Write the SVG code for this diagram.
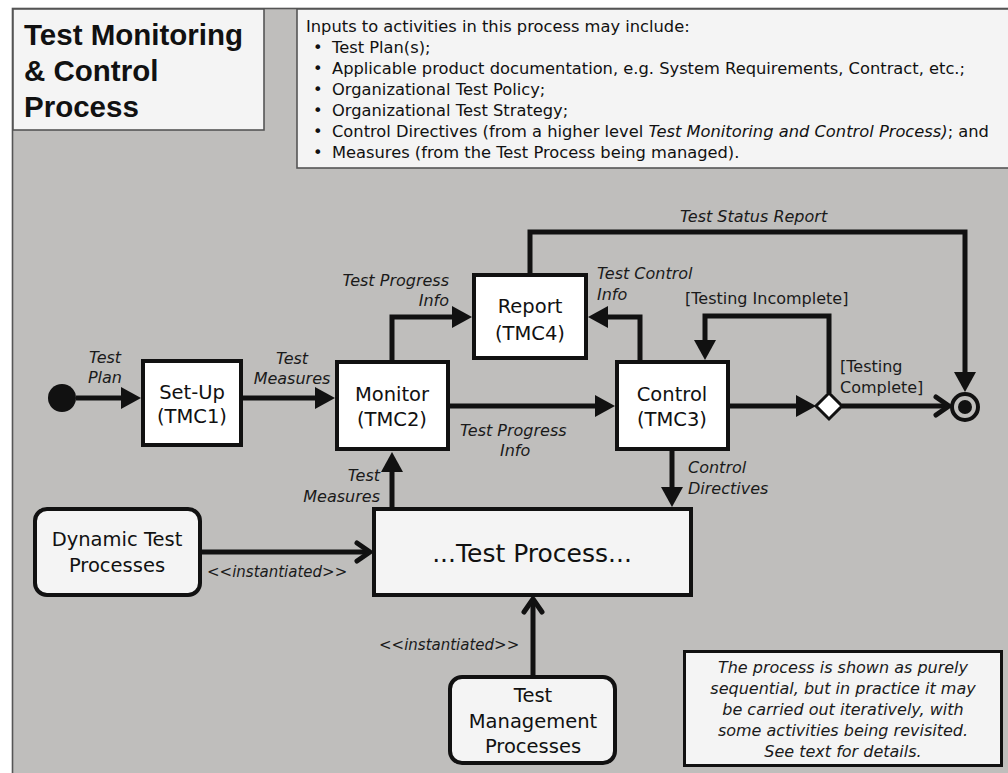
<svg xmlns="http://www.w3.org/2000/svg" width="1008" height="773" viewBox="0 0 1008 773">
  <style>
    .panel { fill: #f4f4f4; stroke: #555; stroke-width: 1.6; }
    .act { fill: #ffffff; stroke: #111; stroke-width: 4; }
    .proc { fill: #f4f4f4; stroke: #111; stroke-width: 4; }
    .note { fill: #f4f4f4; stroke: #111; stroke-width: 3; }
    .edge { fill: none; stroke: #111; stroke-width: 5; stroke-linejoin: miter; }
    .title { font-family: "Liberation Sans", Arial, sans-serif; font-weight: bold; font-size: 29.5px; fill: #111; }
    .inputs { font-family: "DejaVu Sans", Verdana, sans-serif; font-size: 16.3px; fill: #111; }
    .node { font-family: "DejaVu Sans", Verdana, sans-serif; font-size: 19.5px; fill: #111; text-anchor: middle; }
    .big { font-family: "DejaVu Sans", Verdana, sans-serif; font-size: 25px; fill: #111; text-anchor: middle; }
    .lbl { font-family: "DejaVu Sans", Verdana, sans-serif; font-style: italic; font-size: 16px; fill: #1a1a1a; }
    .grd { font-family: "DejaVu Sans", Verdana, sans-serif; font-size: 16px; fill: #1a1a1a; }
    .stereo { font-size: 15px; }
    .mid { text-anchor: middle; }
    .end { text-anchor: end; }
  </style>
  <defs>
    <marker id="head" markerUnits="userSpaceOnUse" markerWidth="22" markerHeight="22" refX="14" refY="11" orient="auto" overflow="visible">
      <path d="M0,0 L20,11 L0,22 z" fill="#111"/>
    </marker>
    <marker id="open" markerUnits="userSpaceOnUse" markerWidth="20" markerHeight="20" refX="14" refY="9" orient="auto" overflow="visible">
      <path d="M1,0 L14,9 L1,18" fill="none" stroke="#111" stroke-width="5" stroke-linecap="round" stroke-linejoin="round"/>
    </marker>
  </defs>

  <!-- frame -->
  <rect x="12.5" y="8.5" width="1000" height="770" fill="#bfbebc" stroke="#555" stroke-width="1.6"/>

  <g id="title">
    <rect class="panel" x="13" y="9" width="251" height="121"/>
    <text class="title" x="24" y="45">Test Monitoring</text>
    <text class="title" x="24" y="81">&amp; Control</text>
    <text class="title" x="24" y="117">Process</text>
  </g>

  <g id="inputs">
    <rect class="panel" x="297" y="9" width="720" height="159" stroke-width="2"/>
    <text class="inputs" x="306" y="32">Inputs to activities in this process may include:</text>
    <g class="inputs">
      <text x="313" y="53">•</text>
      <text x="313" y="74">•</text>
      <text x="313" y="95">•</text>
      <text x="313" y="116">•</text>
      <text x="313" y="137">•</text>
      <text x="313" y="158">•</text>
    </g>
    <text class="inputs" x="332" y="53">Test Plan(s);</text>
    <text class="inputs" x="332" y="74">Applicable product documentation, e.g. System Requirements, Contract, etc.;</text>
    <text class="inputs" x="332" y="95">Organizational Test Policy;</text>
    <text class="inputs" x="332" y="116">Organizational Test Strategy;</text>
    <text class="inputs" x="332" y="137">Control Directives (from a higher level <tspan font-style="italic">Test Monitoring and Control Process)</tspan>; and</text>
    <text class="inputs" x="332" y="158">Measures (from the Test Process being managed).</text>
  </g>

  <g id="connectors">
    <path class="edge" d="M76,398 H135" marker-end="url(#head)"/>
    <path class="edge" d="M243,398 H329" marker-end="url(#head)"/>
    <path class="edge" d="M392,360 V317 H466" marker-end="url(#head)"/>
    <path class="edge" d="M450,406 H609" marker-end="url(#head)"/>
    <path class="edge" d="M640,360 V317 H594" marker-end="url(#head)"/>
    <path class="edge" d="M530,273 V232 H965 V386" marker-end="url(#head)"/>
    <path class="edge" d="M730,406 H810" marker-end="url(#head)"/>
    <path class="edge" d="M842,406 H949" marker-end="url(#open)"/>
    <path class="edge" d="M829,393 V316 H705 V354" marker-end="url(#head)"/>
    <path class="edge" d="M672,450 V501" marker-end="url(#head)"/>
    <path class="edge" d="M392,507 V458" marker-end="url(#head)"/>
    <path class="edge" d="M202,552 H370" marker-end="url(#open)"/>
    <path class="edge" d="M533,675 V599" marker-end="url(#open)"/>

    <text class="lbl mid" x="105" y="363">Test</text>
    <text class="lbl mid" x="105" y="383">Plan</text>
    <text class="lbl mid" x="292" y="364">Test</text>
    <text class="lbl mid" x="292" y="384">Measures</text>
    <text class="lbl end" x="449" y="286">Test Progress</text>
    <text class="lbl end" x="449" y="306">Info</text>
    <text class="lbl" x="597" y="279">Test Control</text>
    <text class="lbl" x="597" y="300">Info</text>
    <text class="lbl" x="680" y="222">Test Status Report</text>
    <text class="lbl" x="460" y="436">Test Progress</text>
    <text class="lbl" x="500" y="456">Info</text>
    <text class="grd" x="685" y="304">[Testing Incomplete]</text>
    <text class="grd" x="840" y="372">[Testing</text>
    <text class="grd" x="840" y="393">Complete]</text>
    <text class="lbl" x="688" y="473">Control</text>
    <text class="lbl" x="688" y="494">Directives</text>
    <text class="lbl end" x="380" y="481">Test</text>
    <text class="lbl end" x="380" y="502">Measures</text>
    <text class="lbl stereo" x="207" y="577">&lt;&lt;instantiated&gt;&gt;</text>
    <text class="lbl stereo" x="379" y="650">&lt;&lt;instantiated&gt;&gt;</text>
  </g>

  <g id="start">
    <circle cx="62" cy="398" r="14" fill="#111"/>
  </g>

  <g id="tmc1">
    <rect class="act" x="143" y="361" width="98" height="84"/>
    <text class="node" x="192" y="399">Set-Up</text>
    <text class="node" x="192" y="423">(TMC1)</text>
  </g>

  <g id="tmc2">
    <rect class="act" x="337" y="362" width="111" height="87"/>
    <text class="node" x="392" y="401">Monitor</text>
    <text class="node" x="392" y="426">(TMC2)</text>
  </g>

  <g id="tmc4">
    <rect class="act" x="474" y="275" width="112" height="83"/>
    <text class="node" x="530" y="313">Report</text>
    <text class="node" x="530" y="340">(TMC4)</text>
  </g>

  <g id="tmc3">
    <rect class="act" x="617" y="362" width="111" height="87"/>
    <text class="node" x="672" y="401">Control</text>
    <text class="node" x="672" y="426">(TMC3)</text>
  </g>

  <g id="decision">
    <polygon points="829,393 842,406 829,419 816,406" fill="#fff" stroke="#111" stroke-width="3"/>
  </g>

  <g id="final">
    <circle cx="965" cy="407" r="13" fill="none" stroke="#111" stroke-width="4"/>
    <circle cx="965" cy="407" r="7" fill="#111"/>
  </g>

  <g id="test-process">
    <rect class="proc" x="374" y="509" width="317" height="86"/>
    <text class="big" x="532" y="562">...Test Process...</text>
  </g>

  <g id="dynamic">
    <rect class="proc" x="35" y="509" width="165" height="86" rx="12"/>
    <text class="node" x="117" y="546">Dynamic Test</text>
    <text class="node" x="117" y="572">Processes</text>
  </g>

  <g id="management">
    <rect class="proc" x="450" y="677" width="165" height="86" rx="12"/>
    <text class="node" x="533" y="702">Test</text>
    <text class="node" x="533" y="728">Management</text>
    <text class="node" x="533" y="753">Processes</text>
  </g>

  <g id="remark">
    <rect class="note" x="684.5" y="651.5" width="317" height="114"/>
    <text class="lbl mid" x="843" y="673">The process is shown as purely</text>
    <text class="lbl mid" x="843" y="694">sequential, but in practice it may</text>
    <text class="lbl mid" x="843" y="715">be carried out iteratively, with</text>
    <text class="lbl mid" x="843" y="736">some activities being revisited.</text>
    <text class="lbl mid" x="843" y="757">See text for details.</text>
  </g>
</svg>
